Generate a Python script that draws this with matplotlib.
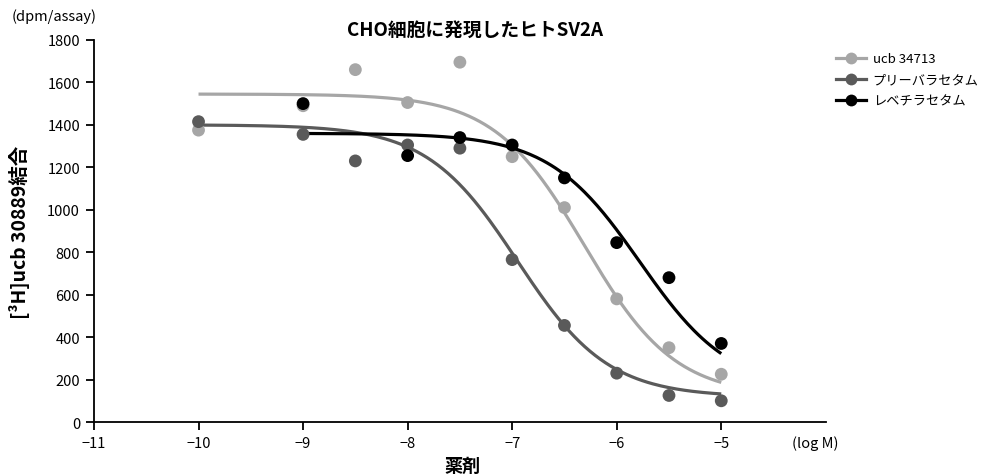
import numpy as np
import matplotlib
matplotlib.use("Agg")
import matplotlib.pyplot as plt
from matplotlib.lines import Line2D

plt.rcParams['font.family'] = ['Noto Sans CJK JP', 'DejaVu Sans']
plt.rcParams['axes.unicode_minus'] = True

# measured points (log M, dpm/assay)
ucb_x = [-10, -9, -8.5, -8, -7.5, -7, -6.5, -6, -5.5, -5]
ucb_y = [1375, 1490, 1660, 1505, 1695, 1250, 1010, 580, 350, 225]

pri_x = [-10, -9, -8.5, -8, -7.5, -7, -6.5, -6, -5.5, -5]
pri_y = [1415, 1355, 1230, 1305, 1290, 765, 455, 230, 125, 100]

lev_x = [-9, -8, -7.5, -7, -6.5, -6, -5.5, -5]
lev_y = [1500, 1255, 1340, 1305, 1150, 845, 680, 370]

# fitted curve parameters: top, bottom, logIC50, hill, x range
ucb_fit = (1545, 120, -6.31, 1.0, -10, -5)
pri_fit = (1400, 118, -6.95, 1.0, -10, -5)
lev_fit = (1360, 150, -5.78, 1.0, -9, -5)

names = ['ucb 34713', 'プリーバラセタム', 'レベチラセタム']
colors = ['#a6a6a6', '#5a5a5a', '#000000']


def curve(p):
    top, bottom, ic50, hill, x0, x1 = p
    xs = np.linspace(x0, x1, 200)
    return xs, bottom + (top - bottom) / (1 + 10 ** (hill * (xs - ic50)))


fig = plt.figure(figsize=(9.81, 4.77), dpi=100)
ax = fig.add_axes([0.0958, 0.1132, 0.746, 0.801])

series = [(ucb_x, ucb_y, ucb_fit), (pri_x, pri_y, pri_fit), (lev_x, lev_y, lev_fit)]
for (xs, ys, fit), c in zip(series, colors):
    cx, cy = curve(fit)
    ax.plot(cx, cy, color=c, lw=2.3, solid_capstyle='butt', zorder=2)
    ax.scatter(xs, ys, s=85, color=c, edgecolors='none', zorder=3)

ax.set_xlim(-11, -4)
ax.set_ylim(0, 1800)
ax.set_xticks(range(-11, -4))
ax.set_xticklabels([f'\u2212{abs(v)}' for v in range(-11, -4)])
ax.set_yticks(range(0, 1801, 200))
for s in ['top', 'right']:
    ax.spines[s].set_visible(False)
for s in ['left', 'bottom']:
    ax.spines[s].set_linewidth(1.3)
ax.tick_params(direction='out', length=6, width=1.3, labelsize=10.5, pad=4)

ax.text(-4.32, -95, '(log M)', ha='left', va='center', fontsize=10.5)
fig.text(12 / 981, 1 - 17 / 477, '(dpm/assay)', ha='left', va='center', fontsize=10.5)
fig.text(20 / 981, 0.513, '[³H]ucb 30889結合', rotation=90, ha='center', va='center',
         fontsize=14, fontweight='bold')
fig.text(475 / 981, 1 - 30 / 477, 'CHO細胞に発現したヒトSV2A', ha='center', va='center',
         fontsize=13.5, fontweight='bold')
fig.text(462 / 981, 1 - 466 / 477, '薬剤', ha='center', va='center',
         fontsize=13, fontweight='bold')

handles = [Line2D([], [], color=c, lw=2.3, marker='o', markersize=8.5, markeredgewidth=0)
           for c in colors]
fig.legend(handles, names, loc='upper left', bbox_to_anchor=(0.852, 0.888), frameon=False,
           fontsize=9.5, handlelength=2.3, handletextpad=0.5, labelspacing=0.6,
           borderpad=0, borderaxespad=0)

fig.savefig('out.png', dpi=100)
